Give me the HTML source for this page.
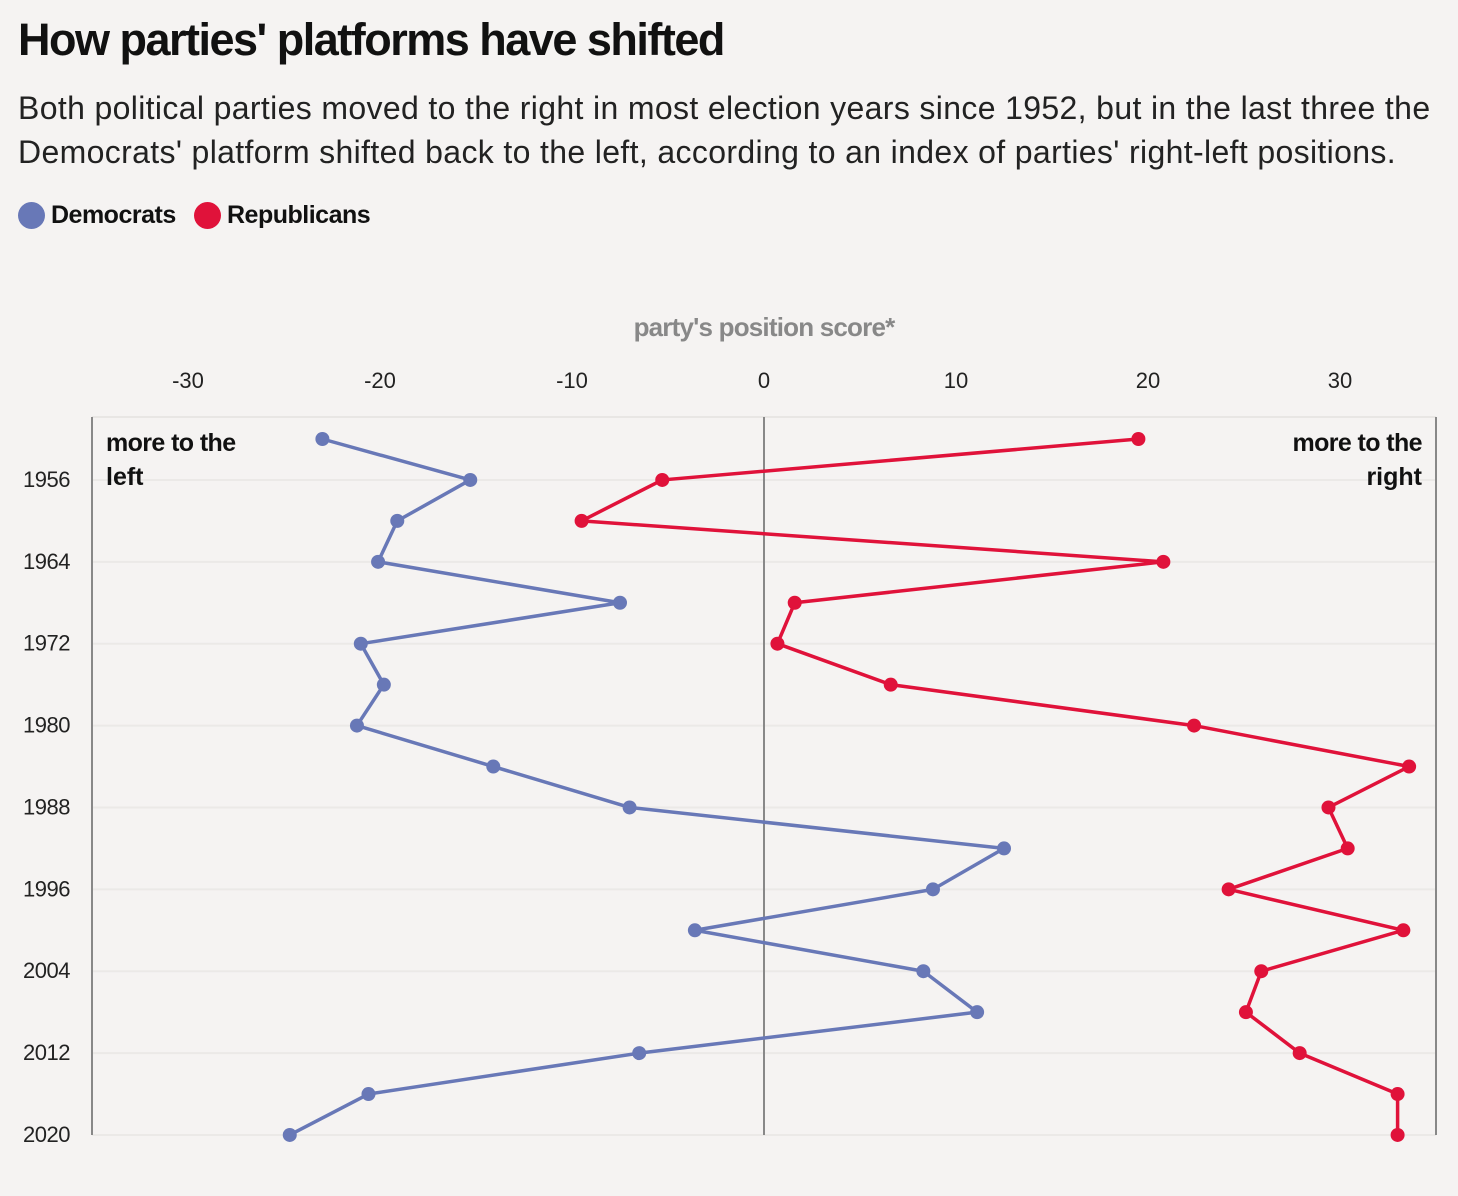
<!DOCTYPE html>
<html><head><meta charset="utf-8">
<style>
body{margin:0;background:#f5f3f2;font-family:"Liberation Sans",sans-serif;}
#wrap{position:relative;width:1458px;height:1196px;overflow:hidden;background:#f5f3f2}
h1{position:absolute;left:18px;top:14px;margin:0;font-size:45px;font-weight:bold;letter-spacing:-1.5px;color:#111}
.sub{position:absolute;left:18px;top:86px;font-size:32px;line-height:44px;color:#222;letter-spacing:0.35px;width:1440px;white-space:nowrap}
.leg{position:absolute;top:201px;font-size:25px;font-weight:bold;color:#111;letter-spacing:-0.5px}
.dot{display:inline-block;width:27px;height:27px;border-radius:50%;vertical-align:-6px;margin-right:6px}
</style></head><body>
<div id="wrap">
<h1>How parties' platforms have shifted</h1>
<div class="sub">Both political parties moved to the right in most election years since 1952, but in the last three the<br>Democrats' platform shifted back to the left, according to an index of parties' right-left positions.</div>
<div class="leg" style="left:18px"><span class="dot" style="background:#6878b7"></span>Democrats</div>
<div class="leg" style="left:194px"><span class="dot" style="background:#e0123a"></span>Republicans</div>
<svg id="chart" width="1458" height="1196" style="position:absolute;left:0;top:0"></svg>
</div>
<script>
const years=[1952,1956,1960,1964,1968,1972,1976,1980,1984,1988,1992,1996,2000,2004,2008,2012,2016,2020];
const dem=[-23.0,-15.3,-19.1,-20.1,-7.5,-21.0,-19.8,-21.2,-14.1,-7.0,12.5,8.8,-3.6,8.3,11.1,-6.5,-20.6,-24.7];
const rep=[19.5,-5.3,-9.5,20.8,1.6,0.7,6.6,22.4,33.6,29.4,30.4,24.2,33.3,25.9,25.1,27.9,33.0,33.0];
const xTicks=[-30,-20,-10,0,10,20,30];
const yTicks=[1956,1964,1972,1980,1988,1996,2004,2012,2020];
const X=v=>764+v*19.2;
const Y=yr=>439+(yr-1952)/4*40.94;
const svg=document.getElementById('chart');
const NS='http://www.w3.org/2000/svg';
function mk(t,a,txt){const e=document.createElementNS(NS,t);for(const k in a)e.setAttribute(k,a[k]);if(txt!=null)e.textContent=txt;svg.appendChild(e);return e;}
let e;
e=mk('text',{x:764,y:336,'text-anchor':'middle','font-size':26,'font-weight':'bold',fill:'#888','letter-spacing':'-0.8'},"party's position score*");


e=mk('line',{x1:92,x2:1436,y1:417,y2:417,stroke:'#e8e6e4','stroke-width':2});


yTicks.forEach(t=>{
 e=mk('line',{x1:92,x2:1436,y1:Y(t),y2:Y(t),stroke:'#ebe9e7','stroke-width':2});
 
 
 e=mk('text',{x:70,y:Y(t)+7,'text-anchor':'end','font-size':22,fill:'#222','letter-spacing':'-0.5'},t);
 
 
});
xTicks.forEach(t=>{
 e=mk('text',{x:X(t),y:388,'text-anchor':'middle','font-size':22,fill:'#222'},t);
 
 
});
[[92,'left-border'],[1436,'right-border'],[764,'zero-line']].forEach(([x,n])=>{
 e=mk('line',{x1:x,x2:x,y1:417,y2:1135,stroke:'#888','stroke-width':2});
 
 
});
e=mk('text',{x:106,y:451,'font-size':25,'font-weight':'bold',fill:'#111','letter-spacing':'-0.6'},'more to the');


e=mk('text',{x:106,y:485,'font-size':25,'font-weight':'bold',fill:'#111'},'left');


e=mk('text',{x:1422,y:451,'text-anchor':'end','font-size':25,'font-weight':'bold',fill:'#111','letter-spacing':'-0.6'},'more to the');


e=mk('text',{x:1422,y:485,'text-anchor':'end','font-size':25,'font-weight':'bold',fill:'#111'},'right');


function series(vals,color,name){
 e=mk('polyline',{points:vals.map((v,i)=>X(v)+','+Y(years[i])).join(' '),fill:'none',stroke:color,'stroke-width':3.5,'stroke-linejoin':'round'});
 
 
 vals.forEach((v,i)=>{
  e=mk('circle',{cx:X(v),cy:Y(years[i]),r:7,fill:color});
  
  
 });
}
series(dem,'#6878b7','democrats');
series(rep,'#e0123a','republicans');
</script>
</body></html>
